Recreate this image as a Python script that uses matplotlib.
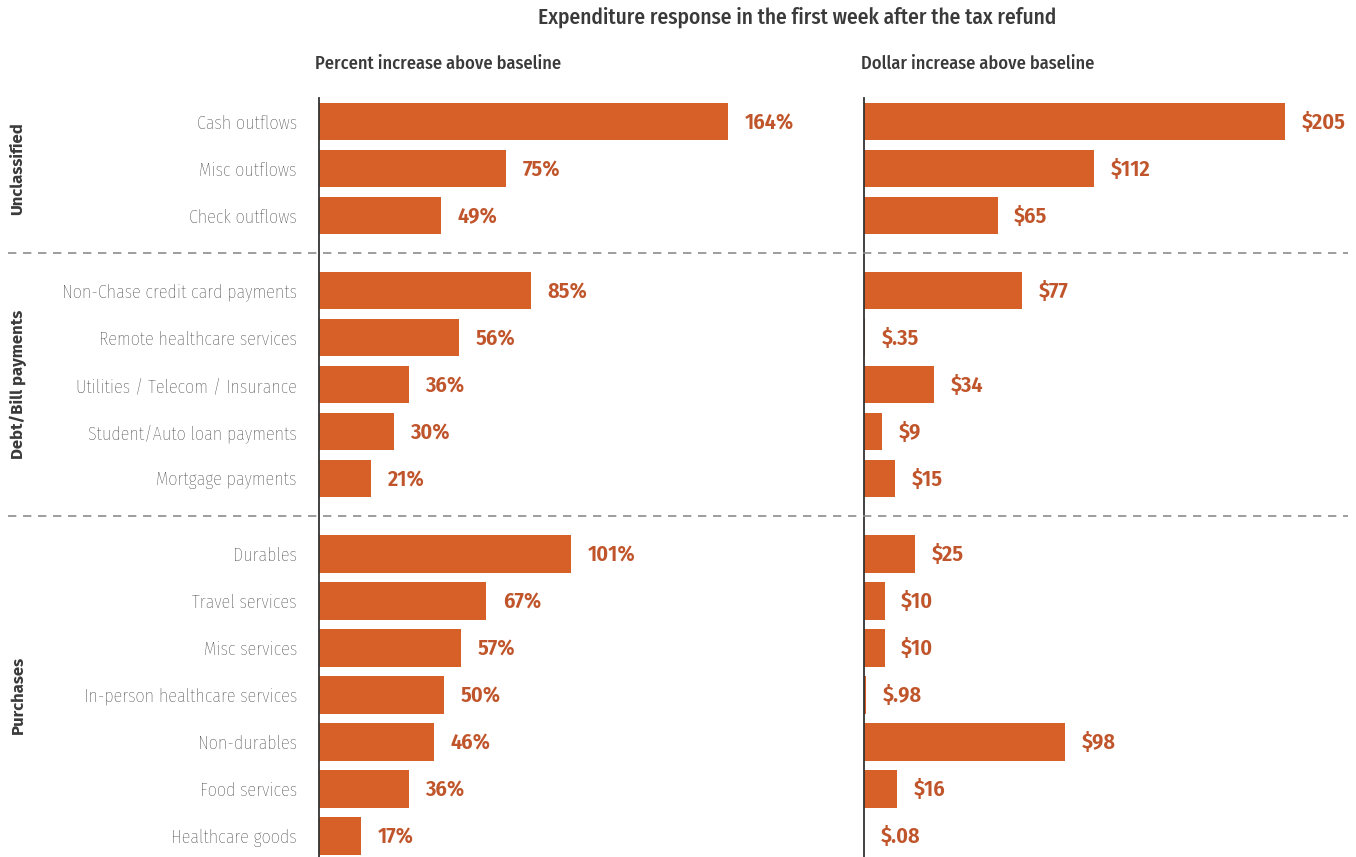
import matplotlib
matplotlib.use("Agg")
import matplotlib.pyplot as plt
from matplotlib.transforms import blended_transform_factory

plt.rcParams['font.family'] = ['Fira Sans Condensed', 'DejaVu Sans']

# Data
groups = ["Unclassified", "Debt/Bill payments", "Purchases"]
categories = [
    ["Cash outflows", "Misc outflows", "Check outflows"],
    ["Non-Chase credit card payments", "Remote healthcare services",
     "Utilities / Telecom / Insurance", "Student/Auto loan payments", "Mortgage payments"],
    ["Durables", "Travel services", "Misc services", "In-person healthcare services",
     "Non-durables", "Food services", "Healthcare goods"],
]
pct_values = [164, 75, 49, 85, 56, 36, 30, 21, 101, 67, 57, 50, 46, 36, 17]
pct_labels = ["164%", "75%", "49%", "85%", "56%", "36%", "30%", "21%",
              "101%", "67%", "57%", "50%", "46%", "36%", "17%"]
usd_values = [205, 112, 65, 77, 0.35, 34, 9, 15, 25, 10, 10, 0.98, 98, 16, 0.08]
usd_labels = ["$205", "$112", "$65", "$77", "$.35", "$34", "$9", "$15",
              "$25", "$10", "$10", "$.98", "$98", "$16", "$.08"]

BAR = "#D66027"
VAL = "#C0552B"
TXT = "#3A3A3A"
GROUP_GAP = 0.6

# y positions: one unit per row, extra gap between groups
ypos, group_mid, group_edges = [], [], []
y = 0.0
for gi, cats in enumerate(categories):
    start = y
    for _ in cats:
        ypos.append(y)
        y += 1
    group_mid.append((start + y - 1) / 2)
    if gi < len(categories) - 1:
        group_edges.append(y - 1 + (1 + GROUP_GAP) / 2)
    y += GROUP_GAP
all_cats = [c for cats in categories for c in cats]

W, H = 1356, 857
fig = plt.figure(figsize=(W / 100, H / 100), dpi=100)
top = 1 - 98 / H
ax1 = fig.add_axes([319 / W, 0, 480 / W, top])
ax2 = fig.add_axes([864 / W, 0, 492 / W, top])

for ax, vals, labs, xmax in [(ax1, pct_values, pct_labels, 192.5),
                             (ax2, usd_values, usd_labels, 239.5)]:
    ax.barh(ypos, vals, height=0.8, color=BAR)
    for yy, v, lab in zip(ypos, vals, labs):
        ax.annotate(lab, (v, yy), xytext=(12, -1), textcoords="offset points",
                    va="center", ha="left", fontsize=16, fontweight="semibold", color=VAL)
    ax.set_xlim(0, xmax)
    ax.set_ylim(15.65, -0.5)
    for s in ["top", "right", "bottom"]:
        ax.spines[s].set_visible(False)
    ax.spines["left"].set_color("#333333")
    ax.spines["left"].set_linewidth(1.3)
    ax.set_xticks([])
    ax.tick_params(axis="y", length=0)

ax1.set_yticks(ypos)
ax1.set_yticklabels(all_cats, fontsize=13, color="#2A2A2A", fontweight="light")
ax1.tick_params(axis="y", pad=16)
ax2.set_yticks([])

# dashed separators across the whole figure
tr = blended_transform_factory(fig.transFigure, ax1.transData)
for ye in group_edges:
    fig.add_artist(plt.Line2D([8 / W, 1348 / W], [ye, ye], transform=tr,
                              color="#8C8C8C", linewidth=1.2, linestyle=(0, (5, 4))))

# group labels
for g, ym in zip(groups, group_mid):
    fig.text(18 / W, ym, g, rotation=90, ha="center", va="center", fontsize=12,
             fontweight="bold", color=TXT, family=["Fira Sans", "DejaVu Sans"],
             transform=tr)

fig.text(315 / W, 1 - 64 / H, "Percent increase above baseline", ha="left", va="center",
         fontsize=13.2, fontweight="medium", color=TXT)
fig.text(861 / W, 1 - 64 / H, "Dollar increase above baseline", ha="left", va="center",
         fontsize=13.2, fontweight="medium", color=TXT)
fig.text(797 / W, 1 - 17 / H, "Expenditure response in the first week after the tax refund",
         ha="center", va="center", fontsize=15.4, fontweight="medium", color=TXT)

fig.savefig("out.png", dpi=100)
